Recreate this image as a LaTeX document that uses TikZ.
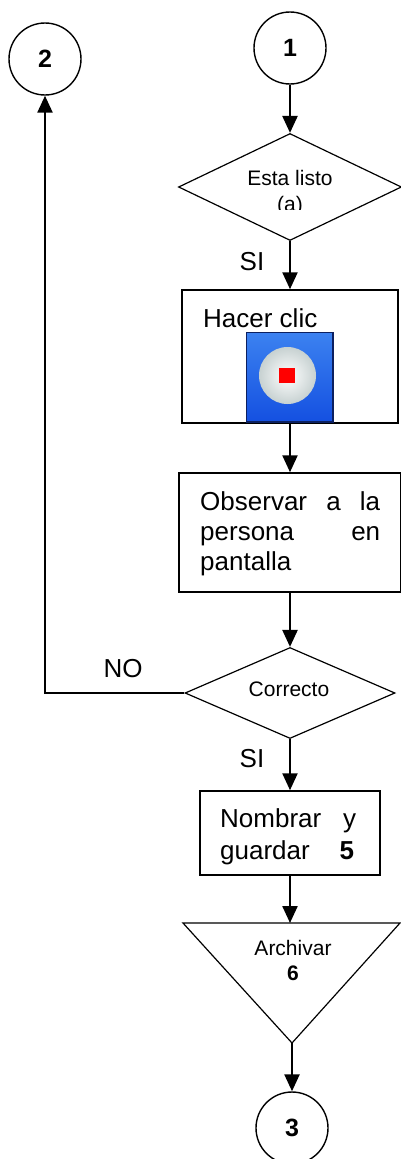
\documentclass[tikz,border=0pt]{standalone}
\usepackage{fontspec}
\setmainfont{Liberation Sans}
\usetikzlibrary{shapes.geometric,arrows.meta}
\definecolor{iconblue}{RGB}{20,80,225}
\definecolor{iconlight}{RGB}{60,130,240}
\definecolor{iconnavy}{RGB}{12,32,96}
\begin{document}
\begin{tikzpicture}[x=1pt,y=-1pt,
  con/.style={circle, draw, line width=1.4pt, minimum size=72pt, inner sep=0pt, font=\fontsize{25}{25}\selectfont\bfseries},
  dec/.style={diamond, draw, line width=1.2pt, inner sep=0pt},
  act/.style={rectangle, draw, line width=1.5pt, inner sep=0pt},
  arr/.style={line width=2.4pt, -{Triangle[length=17pt,width=15pt]}},
  txtbig/.style={inner sep=0pt, font=\fontsize{26}{30}\selectfont},
  txtsmall/.style={inner sep=0pt, font=\fontsize{21}{26}\selectfont}]
\useasboundingbox (0,0) rectangle (401,1159);
% connectors
\node[con] (c1) at (290,48){1};
\node[con] (c2) at (45,59){2};
\node[con] (c3) at (292,1128){3};
% decisions
\node[dec, minimum width=223pt, minimum height=107pt] (dia1) at (290,187){};
\begin{scope}
\clip (200,160) rectangle (380,209);
\node[txtsmall, anchor=north, align=center] (t1) at (290,170){Esta listo\\(a)};
\end{scope}
\node[dec, minimum width=210pt, minimum height=91pt] (dia2) at (290,693){};
\node[txtsmall, anchor=base] (t2) at (289,696){Correcto};
% boxes
\node[act, minimum width=216pt, minimum height=133pt] (box1) at (290,356.5){};
\node[txtbig, anchor=base west] (t3) at (203,327){Hacer clic};
\shade[top color=iconlight, bottom color=iconblue] (246,332) rectangle (333,422);
\draw[iconnavy, line width=2pt] (333,332) -- (333,422) -- (246,422);
\draw[iconnavy, line width=0.6pt] (246,332) rectangle (333,422);
\shade[inner color=white, outer color=cyan!10!gray!40] (287.5,375.5) circle (28.5);
\fill[red] (279,368) rectangle (295,383);
\node[act, minimum width=222pt, minimum height=119pt] (box2) at (290,532.5){};
\node[txtbig, anchor=north west, align=left] (t4) at (200,491){\makebox[180pt][s]{Observar a la}\\\makebox[180pt][s]{persona en}\\pantalla};
\node[act, minimum width=180pt, minimum height=84pt] (box3) at (290,833){};
\node[txtbig, anchor=north west, align=left, font=\fontsize{26}{32}\selectfont] (t5) at (220,808){\makebox[136pt][s]{Nombrar y}\\\makebox[134pt][s]{guardar \textbf{5}}};
% archive
\coordinate (tril) at (183,923);
\coordinate (trir) at (400,923);
\coordinate (tribot) at (292,1043);
\coordinate (tritop) at (290,923);
\draw[line width=1.2pt] (tril) -- (trir) -- (tribot) -- cycle;
\node[txtsmall, anchor=north, align=center, font=\fontsize{21}{25}\selectfont] (t6) at (293,940){Archivar\\\textbf{6}};
% labels
\node[txtbig, anchor=base] (si1) at (252,270){SI};
\node[txtbig, anchor=base] (si2) at (252,767){SI};
\node[txtbig, anchor=base] (no) at (123,677){NO};
% arrows
\draw[arr](c1) -- (dia1);
\draw[arr](dia1) -- (box1);
\draw[arr](box1) -- (box2);
\draw[arr](box2) -- (dia2);
\draw[arr](dia2) -- (box3);
\draw[arr](box3) -- (tritop);
\draw[arr](tribot) -- (c3);
\draw[arr](dia2.west) -| (c2.south);

\end{tikzpicture}
\end{document}
